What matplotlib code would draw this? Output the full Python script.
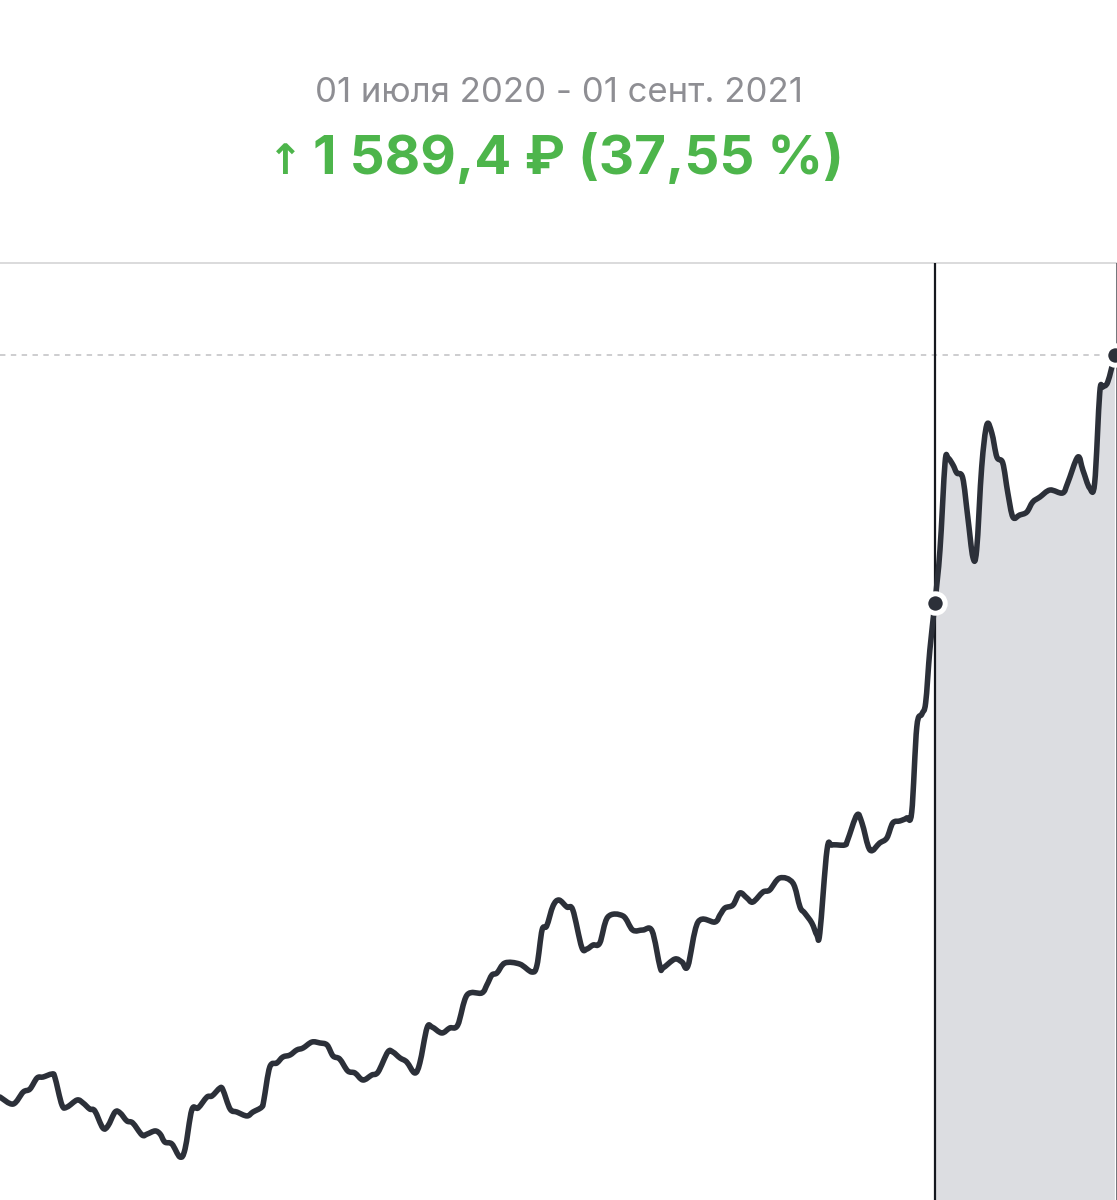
import matplotlib
matplotlib.use("Agg")
import matplotlib.pyplot as plt
from matplotlib.path import Path
from matplotlib.patches import PathPatch

# Data: day offsets from chart start and portfolio value (₽)
days = [0, 31, 55, 71, 88, 102, 123, 130, 147, 159, 183, 197, 213, 225, 244, 256,
        273, 285, 301, 315, 337, 349, 368, 380, 391, 408, 427, 439, 455, 470, 491,
        503, 522, 529, 546, 562, 586, 600, 621, 626, 640, 657, 671, 688, 704, 719,
        740, 759, 776, 790, 806, 825, 842, 861, 882, 897, 920, 932, 949, 965, 984,
        996, 1013, 1025, 1048, 1067, 1086, 1108, 1143, 1155, 1167, 1179, 1198, 1233,
        1262, 1274, 1286, 1297, 1312, 1326, 1345, 1359, 1380, 1392, 1407, 1423, 1442,
        1478, 1501, 1525, 1547, 1566, 1573, 1601, 1618, 1632, 1656, 1696, 1708, 1720,
        1739, 1755, 1772, 1786, 1810, 1826, 1850, 1881, 1898, 1909, 1926, 1938, 1945,
        1962, 1974, 2004, 2011, 2033, 2045, 2064, 2087, 2104, 2118, 2135, 2151, 2163,
        2175, 2187, 2196, 2206, 2218, 2230, 2242, 2249, 2261, 2270, 2284, 2296, 2308,
        2317, 2329, 2341, 2353, 2365, 2379, 2391, 2403, 2419, 2436, 2450, 2467, 2491,
        2521, 2533, 2557, 2569, 2585, 2597, 2609, 2616, 2628, 2645]
values = [1073, 1028, 1105, 1124, 1195, 1201, 1220, 1201, 1022, 1009, 1054, 1035,
          996, 984, 875, 888, 977, 971, 920, 907, 830, 836, 856, 836, 785, 772, 689,
          740, 990, 1003, 1073, 1080, 1131, 1118, 996, 977, 952, 977, 1009, 1054,
          1265, 1291, 1329, 1342, 1374, 1387, 1425, 1419, 1406, 1336, 1316, 1240,
          1227, 1182, 1214, 1233, 1361, 1361, 1323, 1297, 1227, 1291, 1515, 1521,
          1483, 1515, 1534, 1726, 1739, 1790, 1854, 1867, 1931, 1924, 1873, 1918,
          2142, 2168, 2296, 2334, 2289, 2270, 2033, 2020, 2046, 2059, 2225, 2232,
          2142, 2142, 2136, 1905, 1899, 1956, 1937, 1912, 2193, 2193, 2238, 2283,
          2302, 2379, 2347, 2321, 2385, 2398, 2475, 2443, 2289, 2251, 2187, 2110,
          2123, 2654, 2686, 2686, 2718, 2878, 2827, 2654, 2699, 2731, 2827, 2840,
          2859, 2897, 3441, 3524, 3595, 3934, 4235, 4574, 5131, 5163, 5118, 5067,
          5035, 4785, 4529, 4574, 5105, 5374, 5323, 5169, 5131, 4939, 4785, 4798,
          4817, 4881, 4913, 4958, 4939, 5003, 5169, 5086, 4971, 5003, 5579, 5617,
          5649, 5822]

period_label = "01 июля 2020 - 01 сент. 2021"
change_label = "1 589,4 ₽ (37,55 %)"
arrow_label = "↑"
sel_start = 2218
sel_end = 2645

LINE = "#2c3039"
GREEN = "#4db54b"
YMIN, YMAX = 414, 6411


def smooth_path_vertices(xs, ys):
    """Catmull-Rom style cubic Bezier rendering through the given points."""
    verts = [(xs[0], ys[0])]
    codes = [Path.MOVETO]
    n = len(xs)
    for i in range(n - 1):
        x0, y0 = (xs[i - 1], ys[i - 1]) if i > 0 else (xs[i], ys[i])
        x1, y1 = xs[i], ys[i]
        x2, y2 = xs[i + 1], ys[i + 1]
        x3, y3 = (xs[i + 2], ys[i + 2]) if i + 2 < n else (x2, y2)
        c1 = (x1 + (x2 - x0) / 6.0, y1 + (y2 - y0) / 6.0)
        c2 = (x2 - (x3 - x1) / 6.0, y2 - (y3 - y1) / 6.0)
        verts += [c1, c2, (x2, y2)]
        codes += [Path.CURVE4] * 3
    return verts, codes


fig = plt.figure(figsize=(11.17, 12.0), dpi=100)
fig.patch.set_facecolor("white")
ax = fig.add_axes([0, 0, 1, 937 / 1200])
ax.set_xlim(0, 2650)
ax.set_ylim(YMIN, YMAX)

i0 = days.index(sel_start)
fv, fc = smooth_path_vertices(days[i0:], values[i0:])
fv = fv + [(days[-1], YMIN), (days[i0], YMIN), (days[i0], values[i0])]
fc = fc + [Path.LINETO, Path.LINETO, Path.CLOSEPOLY]
ax.add_patch(PathPatch(Path(fv, fc), facecolor="#dcdde1", edgecolor="none",
                       zorder=1))

ax.axhline(values[-1], color="#c9c9cc", lw=1.3, ls=(0, (3, 3)), zorder=2)
ax.axvline(sel_start, color="#15181e", lw=1.6, zorder=3)
ax.axvline(2649, color="#5a5d64", lw=1.2, zorder=3)

lv, lc = smooth_path_vertices(days, values)
ax.add_patch(PathPatch(Path(lv, lc), facecolor="none", edgecolor=LINE, lw=4.0,
                       joinstyle="round", capstyle="round", zorder=4))

ax.plot([sel_start, sel_end], [values[i0], values[-1]], "o", ms=14,
        mfc=LINE, mec="white", mew=3.6, zorder=5, clip_on=False)

for s in ["left", "right", "bottom"]:
    ax.spines[s].set_visible(False)
ax.spines["top"].set_color("#d4d4d6")
ax.spines["top"].set_linewidth(1.2)
ax.set_xticks([])
ax.set_yticks([])

fig.text(559 / 1117, 1 - 93 / 1200, period_label, ha="center", va="center",
         fontsize=25, color="#8e8e93", family=["Inter", "DejaVu Sans"])
fig.text(313 / 1117, 1 - 159 / 1200, change_label, ha="left", va="center",
         fontsize=39.5, fontweight="bold", color=GREEN,
         family=["Inter", "DejaVu Sans"])
fig.text(285 / 1117, 1 - 162 / 1200, arrow_label, ha="center", va="center",
         fontsize=30, fontweight="bold", color=GREEN,
         family=["DejaVu Sans"])

fig.savefig("out.png", dpi=100, facecolor="white")
